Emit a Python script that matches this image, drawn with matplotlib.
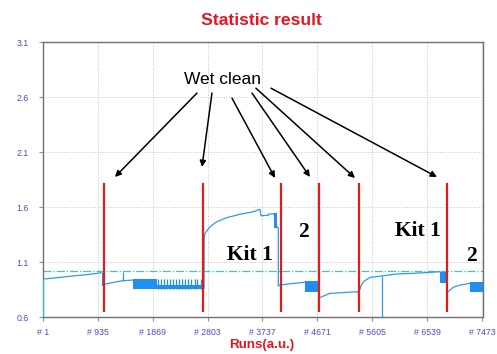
import matplotlib
matplotlib.use('Agg')
from matplotlib import pyplot as plt

# trend lines of each kit period (run, value)
seg1_runs = [1, 200, 400, 600, 801, 1000]
seg1_vals = [0.945, 0.955, 0.967, 0.978, 0.988, 1.003]
seg2_runs = [1044, 1200, 1358, 1528]
seg2_vals = [0.897, 0.915, 0.930, 0.936]
seg3_runs = [2741, 2745, 2758, 2843, 2957, 3128, 3354, 3580, 3694, 3711, 3836, 3840, 3933, 3989, 4006, 4006]
seg3_vals = [0.860, 1.315, 1.360, 1.420, 1.466, 1.503, 1.534, 1.557, 1.579, 1.521, 1.525, 1.535, 1.540, 1.410, 1.410, 0.885]
seg4_runs = [4006, 4100, 4250, 4460]
seg4_vals = [0.885, 0.895, 0.905, 0.915]
seg5_runs = [4704, 4886, 5100, 5368, 5372]
seg5_vals = [0.775, 0.815, 0.822, 0.830, 0.740]
seg6_runs = [5396, 5420, 5452, 5566, 5766, 6021, 6298, 6588, 6758]
seg6_vals = [0.852, 0.890, 0.920, 0.960, 0.973, 0.991, 0.997, 1.006, 1.012]
seg7_runs = [6899, 6984, 7100, 7268]
seg7_vals = [0.830, 0.870, 0.890, 0.906]

# dense scatter blocks: start, end, low, high
block_start = [1000, 1528, 1941, 3933, 4460, 6758, 7268]
block_end = [1027, 1941, 2741, 3989, 4687, 6872, 7488]
block_low = [0.885, 0.852, 0.852, 1.406, 0.830, 0.906, 0.825]
block_high = [1.003, 0.943, 0.895, 1.545, 0.927, 1.012, 0.915]
stripe_runs = [1960, 2010, 2060, 2110, 2160, 2215, 2265, 2320, 2370, 2420, 2475, 2525, 2580, 2630, 2685, 2730]
stripe_low, stripe_high = 0.852, 0.943

# single spikes: run, low, high
spike_runs = [1358, 5776]
spike_low = [0.930, 0.600]
spike_high = [1.010, 0.973]

ref_level = 1.015
wet_clean_runs = [1044, 2724, 4047, 4704, 5385, 6882]
wet_lo, wet_hi = 0.645, 1.818

# arrows from "Wet clean"
arrow_from = [(2622, 2.636), (2877, 2.636), (3218, 2.590), (3558, 2.636), (3626, 2.680), (3882, 2.680)]
arrow_to = [(1226, 1.873), (2707, 1.964), (3950, 1.864), (4545, 1.873), (5311, 1.864), (6707, 1.873)]

xticks = [1, 935, 1869, 2803, 3737, 4671, 5605, 6539, 7473]
yticks = [0.6, 1.1, 1.6, 2.1, 2.6, 3.1]

line_c = '#2e9be6'
block_c = '#1f8ff0'
red = '#e31b1b'
cyan = '#3cc8c8'

fig = plt.figure(figsize=(4.97, 3.54), dpi=100)
ax = fig.add_axes([0.0865, 0.1045, 0.8853, 0.7768])

for r, v in [(seg1_runs, seg1_vals), (seg2_runs, seg2_vals), (seg3_runs, seg3_vals),
             (seg4_runs, seg4_vals), (seg5_runs, seg5_vals), (seg6_runs, seg6_vals),
             (seg7_runs, seg7_vals)]:
    ax.plot(r, v, color=line_c, lw=0.9, zorder=3)

for s, e, lo, hi in zip(block_start, block_end, block_low, block_high):
    ax.fill_between([s, e], [lo, lo], [hi, hi], color=block_c, lw=0, zorder=3)
ax.vlines(stripe_runs, stripe_low, stripe_high, color=block_c, lw=0.9, zorder=3)
ax.vlines(spike_runs, spike_low, spike_high, color=line_c, lw=0.9, zorder=3)
ax.vlines(1, 0.6, seg1_vals[0], color=cyan, lw=1.0, zorder=3)

ax.axhline(ref_level, color=cyan, lw=0.9, ls='-.', zorder=2)
ax.vlines(wet_clean_runs, wet_lo, wet_hi, color=red, lw=1.6, zorder=4)

for p0, p1 in zip(arrow_from, arrow_to):
    ax.annotate('', xy=p1, xytext=p0,
                arrowprops=dict(arrowstyle='-|>', color='black', lw=1.1,
                                mutation_scale=9, shrinkA=0, shrinkB=0))

ax.text(3048, 2.755, 'Wet clean', fontsize=12.5, family='Liberation Sans',
        ha='center', va='center')
kit_font = dict(family='Liberation Serif', fontweight='bold', fontsize=15.5,
                ha='center', va='center')
ax.text(3524, 1.164, 'Kit 1', **kit_font)
ax.text(4426, 1.375, '2', **kit_font)
ax.text(6375, 1.382, 'Kit 1', **kit_font)
ax.text(7298, 1.152, '2', **kit_font)

ax.set_xlim(1, 7490)
ax.set_ylim(0.6, 3.1)
ax.set_xticks(xticks)
ax.set_xticklabels(['# %d' % t for t in xticks])
ax.set_yticks(yticks)
ax.set_yticklabels(['%.1f' % t for t in yticks])
ax.grid(True, ls=':', color='#c4c4c4', lw=0.7)
ax.set_axisbelow(True)
for sp in ax.spines.values():
    sp.set_color('#707070')
    sp.set_linewidth(1.0)
ax.tick_params(axis='both', direction='out', length=3, color='#909090',
               labelsize=6.3, labelcolor='#4b4bd8')
ax.tick_params(axis='x', pad=5)
ax.tick_params(axis='y', pad=7)
for lbl in ax.get_xticklabels() + ax.get_yticklabels():
    lbl.set_family('Liberation Sans')

fig.text(0.527, 0.9435, 'Statistic result', color='#e8141c', fontsize=12.6,
         fontweight='bold', family='Liberation Sans', ha='center', va='center')
fig.text(0.527, 0.025, 'Runs(a.u.)', color='#e8141c', fontsize=9.6,
         fontweight='bold', family='Liberation Sans', ha='center', va='center')

fig.savefig('out.png', dpi=100)
plt.close(fig)
